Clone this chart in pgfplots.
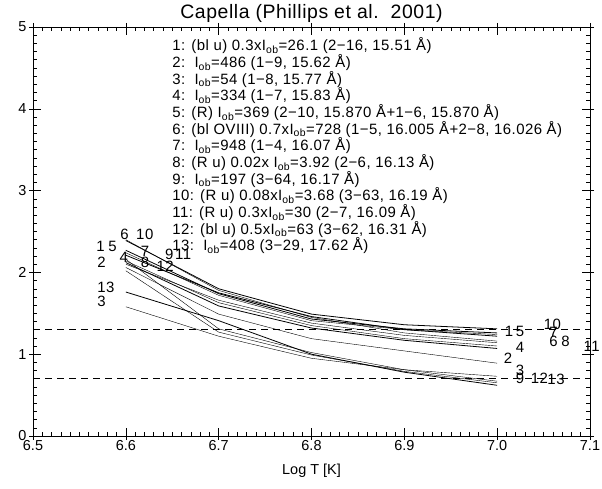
\documentclass[border=0pt]{standalone}
\usepackage{fontspec}
\setmainfont{Liberation Sans}
\newfontfamily\idlfont[LetterSpace=3]{Liberation Sans}
\usepackage{pgfplots}
\pgfplotsset{compat=1.18}

\newcommand{\Iob}{I\textsubscript{ob}}
\newcommand{\lbl}{\idlfont\fontsize{15}{17}\selectfont}
\newcommand{\tkl}{\fontsize{14.5}{16}\selectfont}

\begin{document}
\begin{tikzpicture}
\useasboundingbox (0,0) rectangle (602bp,489bp);
\begin{axis}[
  at={(33bp,53bp)}, anchor=south west,
  scale only axis,
  width=557bp, height=409bp,
  xmin=6.5, xmax=7.1, ymin=0, ymax=5,
  xtick={6.5,6.6,6.7,6.8,6.9,7.0,7.1},
  ytick={0,1,2,3,4,5},
  minor x tick num=9, minor y tick num=9,
  tick align=inside,
  major tick length=8bp, minor tick length=4bp,
  tick style={black, line width=0.5pt},
  extra x ticks={6.5,6.6,6.7,6.8,6.9,7.0,7.1}, extra x tick labels={},
  extra y ticks={0,1,2,3,4,5}, extra y tick labels={},
  extra tick style={tick align=outside, major tick length=4bp},
  axis line style={line width=0.6pt},
  /pgf/number format/assume math mode=true,
  tick label style={font=\tkl},
  yticklabel style={xshift=-3bp},
  xticklabel style={yshift=-1bp, /pgf/number format/.cd, fixed, fixed zerofill, precision=1},
  xlabel={Log T [K]},
  xlabel style={font=\tkl, yshift=-2bp},
  title={Capella (Phillips et al.\ \ 2001)},
  every axis title/.style={at={(0.5,1)}, anchor=base, yshift=8bp,
    font=\idlfont\fontsize{19.5}{22}\selectfont},
  cycle list={{black, solid, line width=0.8pt}},
  no markers,
  clip=false,
]
% reference levels
\addplot[black, line width=0.6pt, dash pattern=on 7bp off 5bp] coordinates {(6.5,1.3) (7.1,1.3)};
\addplot[black, line width=0.6pt, dash pattern=on 7bp off 5bp] coordinates {(6.5,0.7) (7.1,0.7)};

% line ratios versus temperature
\addplot coordinates {(6.6,2.27) (6.7,1.74) (6.8,1.43) (6.9,1.31) (7.0,1.26)}; % 1
\addplot coordinates {(6.6,2.06) (6.7,1.49) (6.8,1.19) (6.9,1.04) (7.0,0.89)}; % 2
\addplot coordinates {(6.6,1.58) (6.7,1.22) (6.8,0.95) (6.9,0.81) (7.0,0.73)}; % 3
\addplot coordinates {(6.6,2.12) (6.7,1.59) (6.8,1.32) (6.9,1.17) (7.0,1.07)}; % 4
\addplot coordinates {(6.6,2.24) (6.7,1.72) (6.8,1.41) (6.9,1.30) (7.0,1.24)}; % 5
\addplot coordinates {(6.6,2.40) (6.7,1.78) (6.8,1.45) (6.9,1.26) (7.0,1.16)}; % 6
\addplot coordinates {(6.6,2.21) (6.7,1.75) (6.8,1.46) (6.9,1.30) (7.0,1.22)}; % 7
\addplot coordinates {(6.6,2.10) (6.7,1.66) (6.8,1.38) (6.9,1.23) (7.0,1.14)}; % 8
\addplot coordinates {(6.6,2.16) (6.7,1.31) (6.8,1.02) (6.9,0.81) (7.0,0.67)}; % 9
\addplot coordinates {(6.6,2.39) (6.7,1.80) (6.8,1.49) (6.9,1.36) (7.0,1.31)}; % 10
\addplot coordinates {(6.6,2.14) (6.7,1.63) (6.8,1.35) (6.9,1.19) (7.0,1.10)}; % 11
\addplot coordinates {(6.6,2.02) (6.7,1.27) (6.8,0.99) (6.9,0.79) (7.0,0.65)}; % 12
\addplot coordinates {(6.6,1.76) (6.7,1.41) (6.8,1.00) (6.9,0.78) (7.0,0.62)}; % 13

\begin{scope}[every node/.style={anchor=base west, inner sep=0pt, font=\lbl}]
% line numbers at the cool end
\node at (axis cs:6.594,2.40) {6};
\node at (axis cs:6.611,2.40) {10};
\node at (axis cs:6.568,2.25) {1};
\node at (axis cs:6.581,2.25) {5};
\node at (axis cs:6.616,2.19) {7};
\node at (axis cs:6.593,2.12) {4};
\node at (axis cs:6.616,2.06) {8};
\node at (axis cs:6.569,2.06) {2};
\node at (axis cs:6.642,2.16) {9};
\node at (axis cs:6.653,2.16) {11};
\node at (axis cs:6.633,2.01) {12};
\node at (axis cs:6.569,1.76) {13};
\node at (axis cs:6.569,1.58) {3};
% line numbers at the hot end
\node at (axis cs:7.008,1.22) {1};
\node at (axis cs:7.020,1.22) {5};
\node at (axis cs:7.050,1.30) {10};
\node at (axis cs:7.056,1.21) {7};
\node at (axis cs:7.056,1.10) {6};
\node at (axis cs:7.069,1.10) {8};
\node at (axis cs:7.020,1.02) {4};
\node at (axis cs:7.007,0.89) {2};
\node at (axis cs:7.093,1.03) {11};
\node at (axis cs:7.020,0.74) {3};
\node at (axis cs:7.020,0.64) {9};
\node at (axis cs:7.036,0.64) {12};
\node at (axis cs:7.054,0.63) {13};

% line identifications
\node at (axis cs:6.65,4.710) {1: (bl u) 0.3x\Iob=26.1 (2−16, 15.51 Å)};
\node at (axis cs:6.65,4.506) {2:\ \ \Iob=486 (1−9, 15.62 Å)};
\node at (axis cs:6.65,4.302) {3:\ \ \Iob=54 (1−8, 15.77 Å)};
\node at (axis cs:6.65,4.098) {4:\ \ \Iob=334 (1−7, 15.83 Å)};
\node at (axis cs:6.65,3.894) {5: (R) \Iob=369 (2−10, 15.870 Å+1−6, 15.870 Å)};
\node at (axis cs:6.65,3.690) {6: (bl OVIII) 0.7x\Iob=728 (1−5, 16.005 Å+2−8, 16.026 Å)};
\node at (axis cs:6.65,3.486) {7:\ \ \Iob=948 (1−4, 16.07 Å)};
\node at (axis cs:6.65,3.282) {8: (R u) 0.02x \Iob=3.92 (2−6, 16.13 Å)};
\node at (axis cs:6.65,3.078) {9:\ \ \Iob=197 (3−64, 16.17 Å)};
\node at (axis cs:6.65,2.874) {10: (R u) 0.08x\Iob=3.68 (3−63, 16.19 Å)};
\node at (axis cs:6.65,2.670) {11: (R u) 0.3x\Iob=30 (2−7, 16.09 Å)};
\node at (axis cs:6.65,2.466) {12: (bl u) 0.5x\Iob=63 (3−62, 16.31 Å)};
\node at (axis cs:6.65,2.262) {13:\ \ \Iob=408 (3−29, 17.62 Å)};
\end{scope}
\end{axis}
\end{tikzpicture}
\end{document}
